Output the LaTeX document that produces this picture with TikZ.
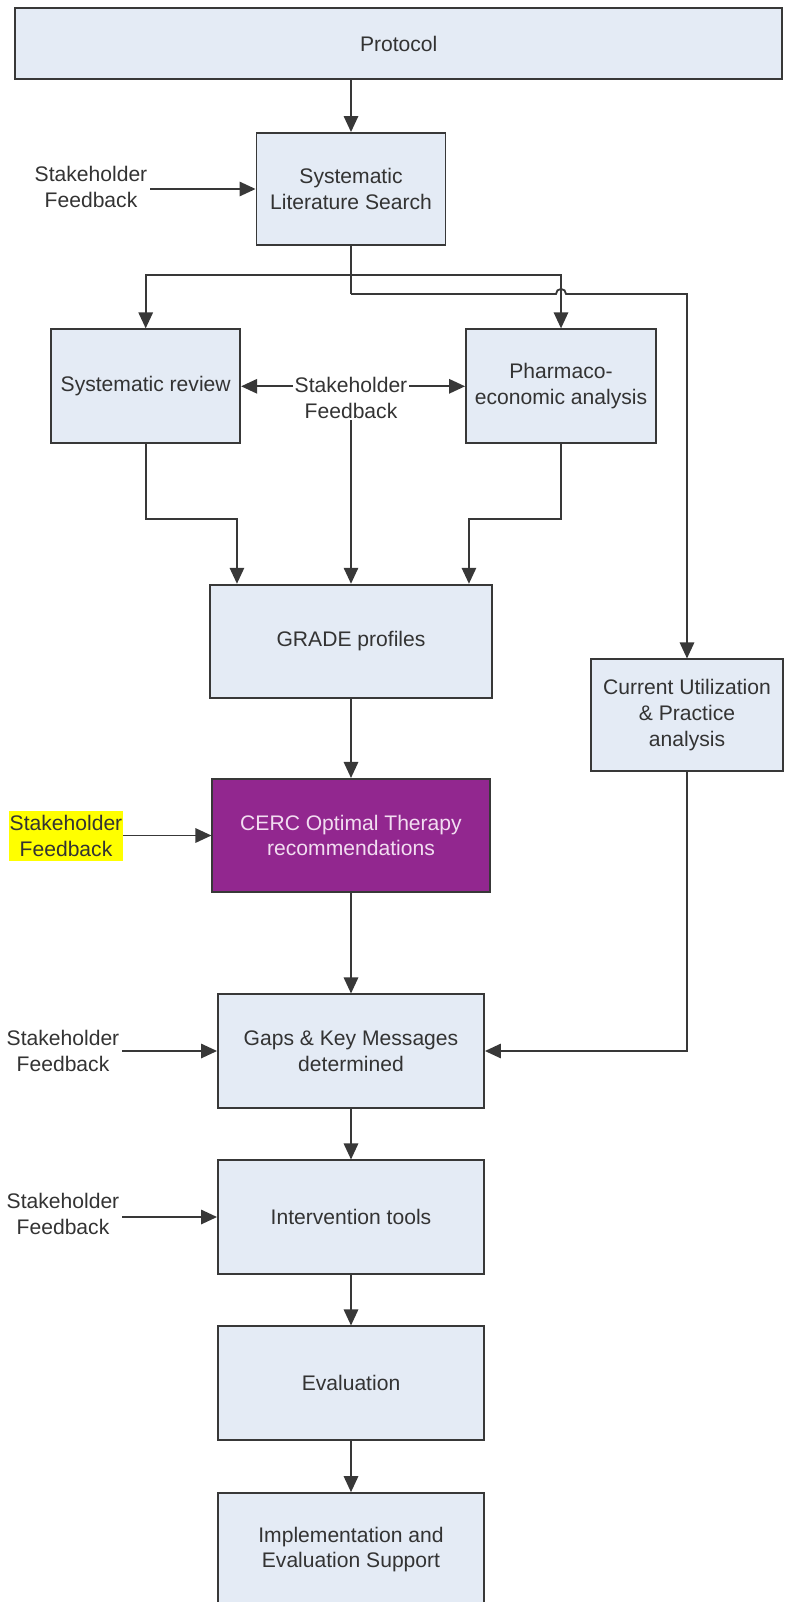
\documentclass[tikz,border=0pt]{standalone}
\usepackage{fontspec}
\setmainfont{Liberation Sans}
\usetikzlibrary{arrows.meta}
\usetikzlibrary{calc}
\definecolor{boxcolor}{HTML}{E4EBF5}
\definecolor{edgecolor}{HTML}{383838}
\definecolor{cerccolor}{HTML}{92278F}
\definecolor{cerctext}{HTML}{F2DDF1}
\definecolor{markcolor}{HTML}{FFFF00}
\definecolor{inkcolor}{HTML}{333333}

\begin{document}
\begin{tikzpicture}[x=0.025cm, y=-0.025cm,
  font=\fontsize{15}{18.2}\selectfont,
  stagebox/.style={draw=edgecolor, line width=1.3pt, fill=boxcolor, text=inkcolor,
    align=center, inner sep=0pt, minimum height=2.83cm},
  feedback/.style={text=inkcolor, align=center, inner sep=2pt},
  link/.style={draw=edgecolor, line width=1.3pt},
  flow/.style={link, -{Triangle[length=0.4cm, width=0.36cm]}}]
  \clip (0,0) rectangle (787,1602);
  % Stage boxes
  \node[stagebox, minimum width=19.17cm, minimum height=1.76cm] (protocol) at (398.7,43.5) {Protocol};
  \node[stagebox, minimum width=4.725cm, minimum height=2.8cm] (sls) at (351,189) {Systematic\\Literature Search};
  \node[stagebox, minimum width=4.725cm, minimum height=2.85cm] (sysrev) at (145.7,386.3) {Systematic review};
  \node[stagebox, minimum width=4.75cm, minimum height=2.85cm] (pharm) at (561,386.3) {Pharmaco-\\economic analysis};
  \node[stagebox, minimum width=7.03cm] (grade) at (351,641.3) {GRADE profiles};
  \node[stagebox, minimum width=4.78cm, minimum height=2.78cm] (cu) at (687,715) {Current Utilization\\\& Practice\\analysis};
  \node[stagebox, fill=cerccolor, text=cerctext, minimum width=6.93cm] (cerc) at (351,835.5) {CERC Optimal Therapy\\recommendations};
  \node[stagebox, minimum width=6.65cm] (gaps) at (351,1051) {Gaps \& Key Messages\\determined};
  \node[stagebox, minimum width=6.65cm] (interv) at (351,1217) {Intervention tools};
  \node[stagebox, minimum width=6.65cm] (eval) at (351,1383) {Evaluation};
  \node[stagebox, minimum width=6.65cm] (impl) at (351,1549.7) {Implementation and\\Evaluation Support};
  % Stakeholder feedback
  \node[feedback] (fbsls) at (91,187) {Stakeholder\\Feedback};
  \node[feedback, inner sep=1pt] (fbmid) at (351,398) {Stakeholder\\Feedback};
  \node[feedback, fill=markcolor, inner sep=0.5pt, minimum width=2.83cm, minimum height=1.27cm] (fbcerc) at (66,836) {Stakeholder\\Feedback};
  \node[feedback] (fbgaps) at (63,1051) {Stakeholder\\Feedback};
  \node[feedback] (fbint) at (63,1214) {Stakeholder\\Feedback};
  % Main chain
  \draw[flow] (protocol.south -| sls.north) -- (sls.north);
  \foreach \a/\b in {grade/cerc, cerc/gaps, gaps/interv, interv/eval, eval/impl} {
    \draw[flow] (\a.south) -- (\b.north);
  }
  % Branches below the search
  \draw[link] (sls.south) -- ++(0,29) coordinate (split1);
  \draw[flow] (split1) -| (sysrev.north);
  \draw[flow] (split1) -| (pharm.north);
  \draw[link] (sls.south) -- ++(0,48) coordinate (split2);
  \draw[flow] (split2) -- ($(split2 -| pharm.north)+(-5,0)$)
    arc[start angle=180, end angle=0, radius=0.125cm]
    -- (split2 -| cu.north) -- (cu.north);
  % Into GRADE
  \draw[flow] (sysrev.south) -- ++(0,75) -| ($(grade.north west)+(27.5,0)$);
  \draw[flow] (pharm.south) -- ++(0,75) -| ($(grade.north east)+(-23.6,0)$);
  \draw[flow] (fbmid.south) -- (grade.north);
  \draw[flow] (cu.south) |- (gaps.east);
  % Feedback arrows
  \draw[flow] (sysrev.east -| fbmid.west) -- (sysrev.east);
  \draw[flow] (pharm.west -| fbmid.east) -- (pharm.west);
  \foreach \f/\b in {fbsls/sls, fbcerc/cerc, fbgaps/gaps, fbint/interv} {
    \draw[flow] (\b.west -| \f.east) -- (\b.west);
  }
\end{tikzpicture}
\end{document}
